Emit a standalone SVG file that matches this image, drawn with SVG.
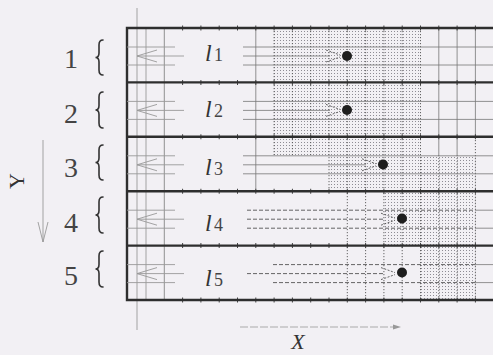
<svg xmlns="http://www.w3.org/2000/svg" width="493" height="355" viewBox="0 0 493 355">
<defs>
<pattern id="st" width="3" height="3" patternUnits="userSpaceOnUse"><rect x="1" y="1" width="1" height="1" fill="#8e8c94"/></pattern>
<style>
.bg{fill:#f2f0f4}
.thick{stroke:#2e2e2e;stroke-width:2.4;fill:none}
.tick{stroke:#444;stroke-width:5;stroke-dasharray:1 17.3;fill:none}
.thin{stroke:#777;stroke-width:0.8;fill:none}
.light{stroke:#999;stroke-width:0.9;fill:none}
.dv{stroke:#555;stroke-width:0.9;stroke-dasharray:1.2 1.8;fill:none}
.dh{stroke:#555;stroke-width:0.9;stroke-dasharray:4 2;fill:none}
.dd{stroke:#555;stroke-width:0.9;stroke-dasharray:2 1.5;fill:none}
.st{fill:url(#st)}
.dot{fill:#1e1e1e}
.num{font-family:"Liberation Serif",serif;font-size:28px;fill:#444;text-anchor:middle}
.lab{font-family:"Liberation Serif",serif;font-size:24px;font-style:italic;fill:#333}
.sub{font-family:"Liberation Serif",serif;font-size:18px;fill:#444}
.brace{stroke:#333;stroke-width:1.6;fill:none;stroke-linecap:round}
.axis{font-family:"Liberation Serif",serif;font-size:22px;fill:#333}
</style>
</defs>
<rect class="bg" x="0" y="0" width="493" height="355"/>

<g id="shading">
<rect class="st" x="274" y="28" width="146.5" height="127"/>
<rect class="st" x="329" y="155" width="146.4" height="36.2"/>
<rect class="st" x="384" y="191.2" width="91.4" height="54.4"/>
<rect class="st" x="420.5" y="245.6" width="54.9" height="54.4"/>
</g>

<g id="grid">
<line class="light" x1="137" y1="8" x2="137" y2="330"/>
<line class="light" x1="146" y1="28" x2="146" y2="300"/>
<line class="thin" x1="164.3" y1="28" x2="164.3" y2="300"/>
<line class="thin" x1="255.8" y1="28" x2="255.8" y2="191.2"/>
<path class="thin" d="M438.8 28V155M457.1 28V155M475.4 28V137"/>
<path class="dv" d="M274.1 28V155M292.4 28V155M310.7 28V155M329 28V191M347.3 28V300M365.6 28V300M383.9 28V300M402.2 28V300M420.5 28V300M438.8 155V300M457.1 155V300M475.4 137V300"/>
<line class="tick" x1="182.1" y1="28" x2="493" y2="28"/>
<line class="tick" x1="182.1" y1="82.4" x2="493" y2="82.4"/>
<line class="tick" x1="182.1" y1="136.8" x2="493" y2="136.8"/>
<line class="tick" x1="182.1" y1="191.2" x2="493" y2="191.2"/>
<line class="tick" x1="182.1" y1="245.6" x2="493" y2="245.6"/>
<line class="tick" x1="182.1" y1="300" x2="493" y2="300"/>
</g>

<g id="frame">
<path class="thick" d="M493 28H127V300H493M127 82.4H493M127 136.8H493M127 191.2H493M127 245.6H493"/>
</g>

<g id="connectors">
<path class="light" d="M127 47H175M137 56H184M127 65H175M157 50L137 56L157 62"/>
<path class="light" d="M127 101.4H175M137 110.4H184M127 119.4H175M157 104.4L137 110.4L157 116.4"/>
<path class="light" d="M127 155.8H175M137 164.8H184M127 173.8H175M157 158.8L137 164.8L157 170.8"/>
<path class="light" d="M127 210.2H175M137 219.2H184M127 228.2H175M157 213.2L137 219.2L157 225.2"/>
<path class="light" d="M127 264.6H175M137 273.6H184M127 282.6H175M157 267.6L137 273.6L157 279.6"/>
<path class="thin" d="M243 47H493M243 56H330M243 65H493"/>
<path class="thin" d="M243 101.4H493M243 110.4H330M243 119.4H493"/>
<path class="thin" d="M243 155.8H493M243 164.8H366M243 173.8H493"/>
<path class="dh" d="M247 210.2H475M247 219.2H385M247 228.2H475"/>
<path class="thin" d="M475 210.2H493M475 228.2H493"/>
<path class="dh" d="M273 264.6H475M247 273.6H385M273 282.6H475"/>
<path class="thin" d="M475 264.6H493M475 282.6H493"/>
<path class="dd" d="M326 50L340 55M326 62L340 57"/>
<path class="dd" d="M326 104.4L340 109.4M326 116.4L340 111.4"/>
<path class="dd" d="M362 158.8L376 163.8M362 170.8L376 165.8"/>
<path class="dd" d="M381 213.2L395 218.2M381 225.2L395 220.2"/>
<path class="dd" d="M381 267.6L395 272.6M381 279.6L395 274.6"/>
</g>

<g id="dot1"><circle class="dot" cx="347" cy="56" r="5"/></g>
<g id="dot2"><circle class="dot" cx="347" cy="110" r="5"/></g>
<g id="dot3"><circle class="dot" cx="383" cy="164.5" r="5"/></g>
<g id="dot4"><circle class="dot" cx="402" cy="218.5" r="5"/></g>
<g id="dot5"><circle class="dot" cx="402" cy="272.5" r="5"/></g>

<g id="labels">
<text class="lab" x="205" y="61">l</text><text class="sub" x="214" y="61">1</text>
<text class="lab" x="205" y="117">l</text><text class="sub" x="214" y="117">2</text>
<text class="lab" x="205" y="175">l</text><text class="sub" x="214" y="175">3</text>
<text class="lab" x="205" y="231">l</text><text class="sub" x="214" y="231">4</text>
<text class="lab" x="205" y="286">l</text><text class="sub" x="214" y="286">5</text>
</g>

<g id="row1"><text class="num" x="71" y="68">1</text><path class="brace" d="M103 40Q99 40 99 45V53Q99 57.5 95.5 57.5Q99 57.5 99 62V70Q99 75 103 75"/></g>
<g id="row2"><text class="num" x="71" y="123">2</text><path class="brace" d="M103 92Q99 92 99 97V105.5Q99 110 95.5 110Q99 110 99 114.5V123Q99 128 103 128"/></g>
<g id="row3"><text class="num" x="71" y="177">3</text><path class="brace" d="M103 145Q99 145 99 150V158Q99 162.5 95.5 162.5Q99 162.5 99 167V175Q99 180 103 180"/></g>
<g id="row4"><text class="num" x="71" y="232">4</text><path class="brace" d="M103 197Q99 197 99 202V210.5Q99 215 95.5 215Q99 215 99 219.5V228Q99 233 103 233"/></g>
<g id="row5"><text class="num" x="71" y="285">5</text><path class="brace" d="M103 251Q99 251 99 256V264.5Q99 269 95.5 269Q99 269 99 273.5V282Q99 287 103 287"/></g>

<g id="yaxis">
<path class="light" d="M43 140V242M38 222L43 242L48 222"/>
<text class="axis" transform="translate(24 181) rotate(-90)" text-anchor="middle">Y</text>
</g>
<g id="xaxis">
<line x1="240" y1="327" x2="396" y2="327" stroke="#aaa" stroke-width="1" stroke-dasharray="8 2"/>
<path d="M393 324.5L401 327L393 329.5Z" fill="#999"/>
<text class="axis" x="298" y="349" text-anchor="middle" font-style="italic" font-size="21">X</text>
</g>
</svg>
